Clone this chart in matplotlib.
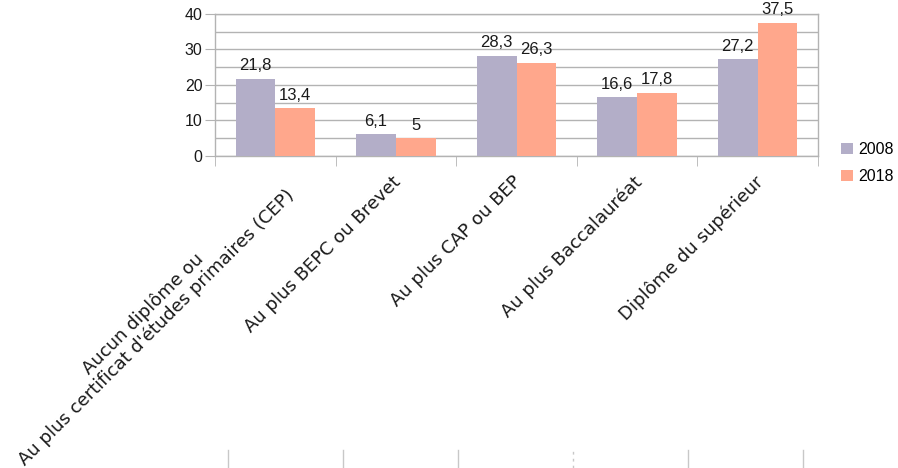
import matplotlib
matplotlib.use("Agg")
import matplotlib.pyplot as plt
import numpy as np
from matplotlib.lines import Line2D
import matplotlib.transforms as mtrans

categories = ["Aucun diplôme ou\nAu plus certificat d'études primaires (CEP)",
              "Au plus BEPC ou Brevet",
              "Au plus CAP ou BEP",
              "Au plus Baccalauréat",
              "Diplôme du supérieur"]
series_names = ["2008", "2018"]
values_2008 = [21.8, 6.1, 28.3, 16.6, 27.2]
values_2018 = [13.4, 5.0, 26.3, 17.8, 37.5]
yticks = [0, 10, 20, 30, 40]

c2008 = "#b3aec8"
c2018 = "#ffa78c"
grid_c = "#b3b3b3"

fig = plt.figure(figsize=(8.98, 4.68), dpi=100)
ax = fig.add_axes([215/898, 1-156/468, (818-215)/898, (156-14)/468])

x = np.arange(len(categories))
w = 0.33
b1 = ax.bar(x - w/2, values_2008, w, color=c2008, label=series_names[0], zorder=3)
b2 = ax.bar(x + w/2, values_2018, w, color=c2018, label=series_names[1], zorder=3)

lab_font = dict(family="Liberation Sans", size=12)
for bars, vals in ((b1, values_2008), (b2, values_2018)):
    for r, v in zip(bars, vals):
        ax.annotate(("%g" % v).replace(".", ","), (r.get_x() + r.get_width()/2, v),
                    xytext=(0, 4), textcoords="offset points", ha="center", va="bottom",
                    color="#1a1a1a", **lab_font)

ax.set_xlim(-0.5, len(categories) - 0.5)
ax.set_ylim(0, 40)
ax.set_yticks(yticks)
ax.set_yticks(np.arange(5, 40, 10), minor=True)
ax.set_yticklabels([str(t) for t in yticks], family="Liberation Sans", size=11.5, color="#1a1a1a")
ax.yaxis.grid(True, which="both", color=grid_c, lw=1, zorder=0)
ax.tick_params(axis="y", which="major", length=7, color=grid_c, pad=2)
ax.tick_params(axis="y", which="minor", length=0)

ax.set_xticks(x)
ax.set_xticklabels(categories, rotation=45, ha="right", rotation_mode="anchor",
                   family="DejaVu Sans", size=13, color="#1a1a1a", multialignment="center",
                   linespacing=1.05)
ax.tick_params(axis="x", which="major", length=0, pad=12)
ax.set_xticks(np.arange(-0.5, len(categories), 1), minor=True)
ax.tick_params(axis="x", which="minor", length=7, color=grid_c)
offset = mtrans.ScaledTranslation(-4/100, 0, fig.dpi_scale_trans)
for lbl in ax.get_xticklabels():
    lbl.set_transform(lbl.get_transform() + offset)

for s in ax.spines.values():
    s.set_color(grid_c)
    s.set_linewidth(1)

leg = fig.legend(handles=[b1, b2], labels=series_names, loc="upper left",
                 bbox_to_anchor=(841/898, 1-142/468), frameon=False,
                 borderaxespad=0, borderpad=0,
                 prop=dict(family="Liberation Sans", size=11.5),
                 handlelength=0.75, handleheight=0.75, handletextpad=0.35, labelspacing=0.75)

# stray tick marks at bottom of the image
for xp in [228, 343, 458, 688, 803]:
    fig.add_artist(Line2D([xp/898, xp/898], [0, 1-450/468], transform=fig.transFigure,
                          color="#c8c8c8", lw=1))
fig.add_artist(Line2D([573/898, 573/898], [0, 1-450/468], transform=fig.transFigure,
                      color="#c8c8c8", lw=1, linestyle=(0, (2, 3))))

fig.savefig("out.png", dpi=100)
